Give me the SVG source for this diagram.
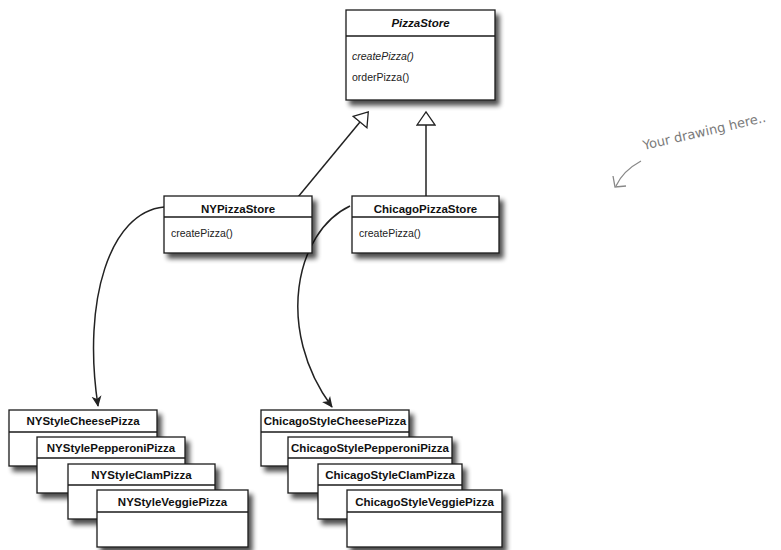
<svg xmlns="http://www.w3.org/2000/svg" width="781" height="550" viewBox="0 0 781 550">
<style>
.box{fill:#fff;stroke:#1a1a1a;stroke-width:1.3;filter:url(#sh)}
.div{stroke:#1a1a1a;stroke-width:1.3}
.t{font-family:"Liberation Sans",Arial,sans-serif;font-size:11.5px;font-weight:bold;fill:#111;text-anchor:middle}
.m{font-family:"Liberation Sans",Arial,sans-serif;font-size:10.5px;fill:#222}
.c{fill:none;stroke:#222;stroke-width:1.5}
.hand{font-family:"DejaVu Sans",sans-serif;font-size:13px;fill:#7a7a7a}
</style>
<defs>
<filter id="sh" x="-10%" y="-10%" width="130%" height="140%">
<feGaussianBlur in="SourceAlpha" stdDeviation="2.5"/>
<feOffset dx="4" dy="5" result="b"/>
<feComponentTransfer><feFuncA type="linear" slope="0.7"/></feComponentTransfer>
<feMerge><feMergeNode/><feMergeNode in="SourceGraphic"/></feMerge>
</filter>
<marker id="tri" markerWidth="18" markerHeight="20" refX="1" refY="10" orient="auto" markerUnits="userSpaceOnUse">
<path d="M1,1 L14,10 L1,19 Z" fill="#fff" stroke="#222" stroke-width="1.3"/>
</marker>
<marker id="arr" markerWidth="12" markerHeight="12" refX="10" refY="6" orient="auto" markerUnits="userSpaceOnUse">
<path d="M0,1 L11,6 L0,11 L3,6 Z" fill="#222"/>
</marker>
</defs>

<g id="connectors">
<path class="c" d="M298,197 L360,122" marker-end="url(#tri)"/>
<path class="c" d="M426,196 L426,125" marker-end="url(#tri)"/>
<path class="c" d="M164,207 C110,212 82,300 98,406" marker-end="url(#arr)"/>
<path class="c" d="M350,206 C295,232 275,330 332,407" marker-end="url(#arr)"/>
</g>

<g id="PizzaStore">
<rect class="box" x="346" y="10" width="149" height="90"/>
<line class="div" x1="346" y1="36" x2="495" y2="36"/>
<text class="t" x="420.5" y="27" font-style="italic">PizzaStore</text>
<text class="m" x="352" y="60" font-style="italic">createPizza()</text>
<text class="m" x="352" y="81">orderPizza()</text>
</g>

<g id="NYPizzaStore">
<rect class="box" x="164" y="196" width="148" height="57"/>
<line class="div" x1="164" y1="217" x2="312" y2="217"/>
<text class="t" x="238" y="213">NYPizzaStore</text>
<text class="m" x="171" y="237">createPizza()</text>
</g>

<g id="ChicagoPizzaStore">
<rect class="box" x="352" y="196" width="147" height="57"/>
<line class="div" x1="352" y1="217" x2="499" y2="217"/>
<text class="t" x="425.5" y="213">ChicagoPizzaStore</text>
<text class="m" x="359" y="237">createPizza()</text>
</g>

<g id="NYStyleCheesePizza">
<rect class="box" x="9" y="410" width="148" height="56"/>
<line class="div" x1="9" y1="432" x2="157" y2="432"/>
<text class="t" x="83" y="425">NYStyleCheesePizza</text>
</g>
<g id="NYStylePepperoniPizza">
<rect class="box" x="37" y="437" width="148" height="56"/>
<line class="div" x1="37" y1="458" x2="185" y2="458"/>
<text class="t" x="111" y="452">NYStylePepperoniPizza</text>
</g>
<g id="NYStyleClamPizza">
<rect class="box" x="68" y="464" width="147" height="55"/>
<line class="div" x1="68" y1="485" x2="215" y2="485"/>
<text class="t" x="141.5" y="479">NYStyleClamPizza</text>
</g>
<g id="NYStyleVeggiePizza">
<rect class="box" x="97" y="490" width="151" height="57"/>
<line class="div" x1="97" y1="512" x2="248" y2="512"/>
<text class="t" x="172.5" y="506">NYStyleVeggiePizza</text>
</g>

<g id="ChicagoStyleCheesePizza">
<rect class="box" x="261" y="410" width="148" height="56"/>
<line class="div" x1="261" y1="432" x2="409" y2="432"/>
<text class="t" x="335" y="425">ChicagoStyleCheesePizza</text>
</g>
<g id="ChicagoStylePepperoniPizza">
<rect class="box" x="288" y="437" width="164" height="56"/>
<line class="div" x1="288" y1="458" x2="452" y2="458"/>
<text class="t" x="370" y="452">ChicagoStylePepperoniPizza</text>
</g>
<g id="ChicagoStyleClamPizza">
<rect class="box" x="318" y="464" width="144" height="55"/>
<line class="div" x1="318" y1="485" x2="462" y2="485"/>
<text class="t" x="390" y="479">ChicagoStyleClamPizza</text>
</g>
<g id="ChicagoStyleVeggiePizza">
<rect class="box" x="347" y="490" width="155" height="57"/>
<line class="div" x1="347" y1="512" x2="502" y2="512"/>
<text class="t" x="424.5" y="506">ChicagoStyleVeggiePizza</text>
</g>

<g id="note">
<text class="hand" x="644" y="150" transform="rotate(-13 644 150)">Your drawing here..</text>
<path d="M641,161 C630,167 621,175 616,186" fill="none" stroke="#888" stroke-width="1.3"/>
<path d="M613,176 L615,187 L626,186" fill="none" stroke="#888" stroke-width="1.3"/>
</g>
</svg>
